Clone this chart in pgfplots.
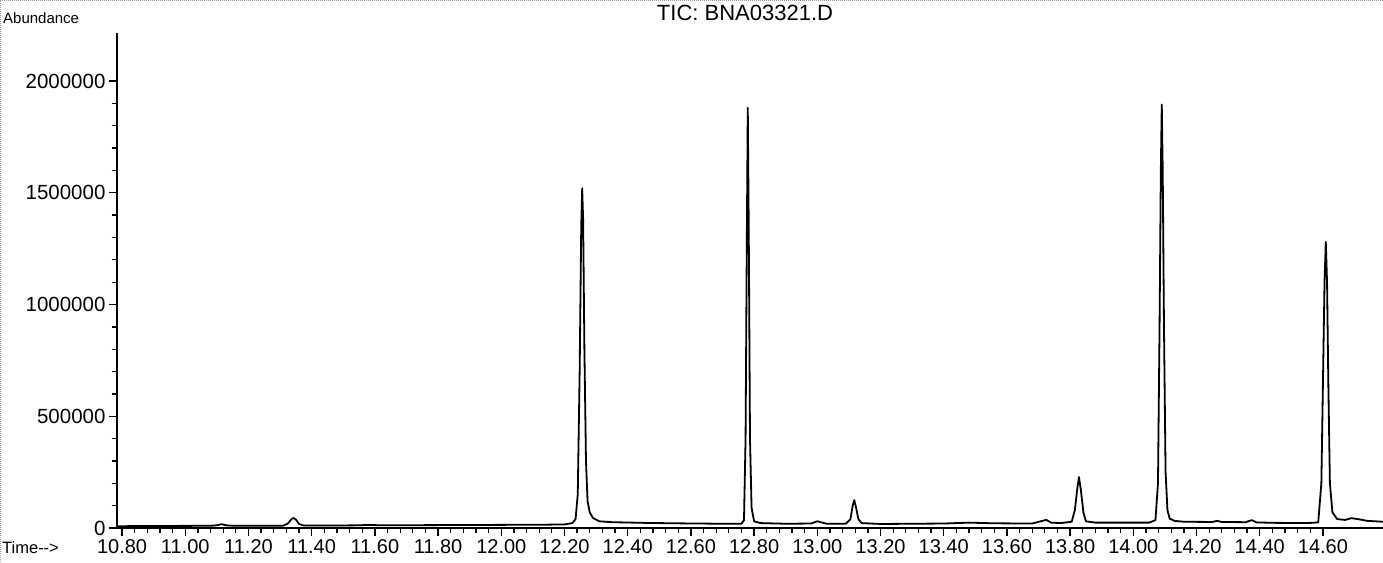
\documentclass[border=0pt]{standalone}
\usepackage{pgfplots}
\pgfplotsset{compat=1.18}
\usepackage{fontspec}
\setmainfont{Liberation Sans}
\begin{document}
\begin{tikzpicture}
\useasboundingbox (-117pt,-34pt) rectangle (1266pt,528pt);
\draw[gray!80, densely dotted, line width=1pt] (-116pt,-34pt) -- (-116pt,527pt) -- (1266pt,527pt);
\begin{axis}[
  at={(0pt,0pt)}, anchor=south west,
  scale only axis, width=1266pt, height=495pt,
  xmin=10.784, xmax=14.79, ymin=0, ymax=2215000,
  axis x line=bottom, axis y line=left,
  axis line style={-, line width=1.6pt},
  xtick={10.8,11.0,11.2,11.4,11.6,11.8,12.0,12.2,12.4,12.6,12.8,13.0,13.2,13.4,13.6,13.8,14.0,14.2,14.4,14.6},
  minor x tick num=4,
  ytick={0,500000,1000000,1500000,2000000},
  minor y tick num=4,
  scaled y ticks=false, scaled x ticks=false,
  tick align=outside,
  major tick length=8pt, minor tick length=5pt,
  tick style={line width=1.3pt, black},
  x tick label style={/pgf/number format/fixed, /pgf/number format/fixed zerofill, /pgf/number format/precision=2, font=\fontsize{20}{22}\selectfont},
  y tick label style={/pgf/number format/fixed, /pgf/number format/1000 sep={}, font=\fontsize{20.5}{22}\selectfont},
  /pgf/number format/assume math mode=true,
  clip=false,
]
\addplot[black, line width=1.8pt, line join=round, mark=none] coordinates {
(10.784,8000) (10.90,9000) (11.00,9500) (11.08,10000) (11.10,12000) (11.115,17000) (11.13,12000) (11.15,10000)
(11.25,10000) (11.31,10500) (11.325,20000) (11.335,38000) (11.342,45000) (11.35,38000) (11.36,18000) (11.375,11000)
(11.45,11000) (11.55,12000) (11.58,14000) (11.62,12000) (11.80,13000) (12.00,14000) (12.15,15000) (12.20,16000)
(12.225,22000) (12.235,40000) (12.242,150000) (12.248,700000) (12.253,1350000) (12.256,1520000) (12.259,1380000)
(12.263,800000) (12.268,300000) (12.273,120000) (12.28,70000) (12.29,45000) (12.31,30000) (12.35,26000)
(12.45,23000) (12.55,21000) (12.70,19000) (12.76,19000) (12.768,35000) (12.773,400000) (12.777,1300000)
(12.780,1880000) (12.783,1350000) (12.787,400000) (12.792,90000) (12.80,30000) (12.82,22000) (12.90,19000)
(12.98,20000) (13.00,30000) (13.01,26000) (13.03,19000) (13.09,19000) (13.105,40000) (13.112,100000)
(13.117,125000) (13.122,95000) (13.13,40000) (13.14,22000) (13.20,18000) (13.40,20000) (13.48,24000)
(13.56,21000) (13.68,20000) (13.715,33000) (13.725,36000) (13.74,24000) (13.77,22000) (13.805,28000)
(13.815,80000) (13.823,180000) (13.828,228000) (13.834,170000) (13.842,70000) (13.85,30000) (13.88,24000)
(14.05,24000) (14.07,35000) (14.078,200000) (14.083,900000) (14.087,1600000) (14.090,1895000) (14.093,1600000)
(14.097,900000) (14.102,250000) (14.108,80000) (14.115,42000) (14.13,32000) (14.16,28000) (14.25,27000)
(14.265,32000) (14.28,27000) (14.355,26000) (14.375,35000) (14.39,25000) (14.45,23000) (14.55,22000)
(14.585,25000) (14.595,200000) (14.600,650000) (14.605,1100000) (14.609,1280000) (14.613,1100000)
(14.617,650000) (14.622,200000) (14.63,70000) (14.645,40000) (14.67,36000) (14.69,44000) (14.71,40000)
(14.74,32000) (14.79,28000)
};
\end{axis}
\node[anchor=center, font=\fontsize{22}{24}\selectfont] at (628pt,515pt) {TIC: BNA03321.D};
\node[anchor=west, font=\fontsize{15}{17}\selectfont, inner sep=0pt] at (-114pt,510pt) {Abundance};
\node[anchor=west, font=\fontsize{16.5}{18}\selectfont, inner sep=0pt] at (-115pt,-20pt) {Time-{}-{}>};
\end{tikzpicture}
\end{document}
